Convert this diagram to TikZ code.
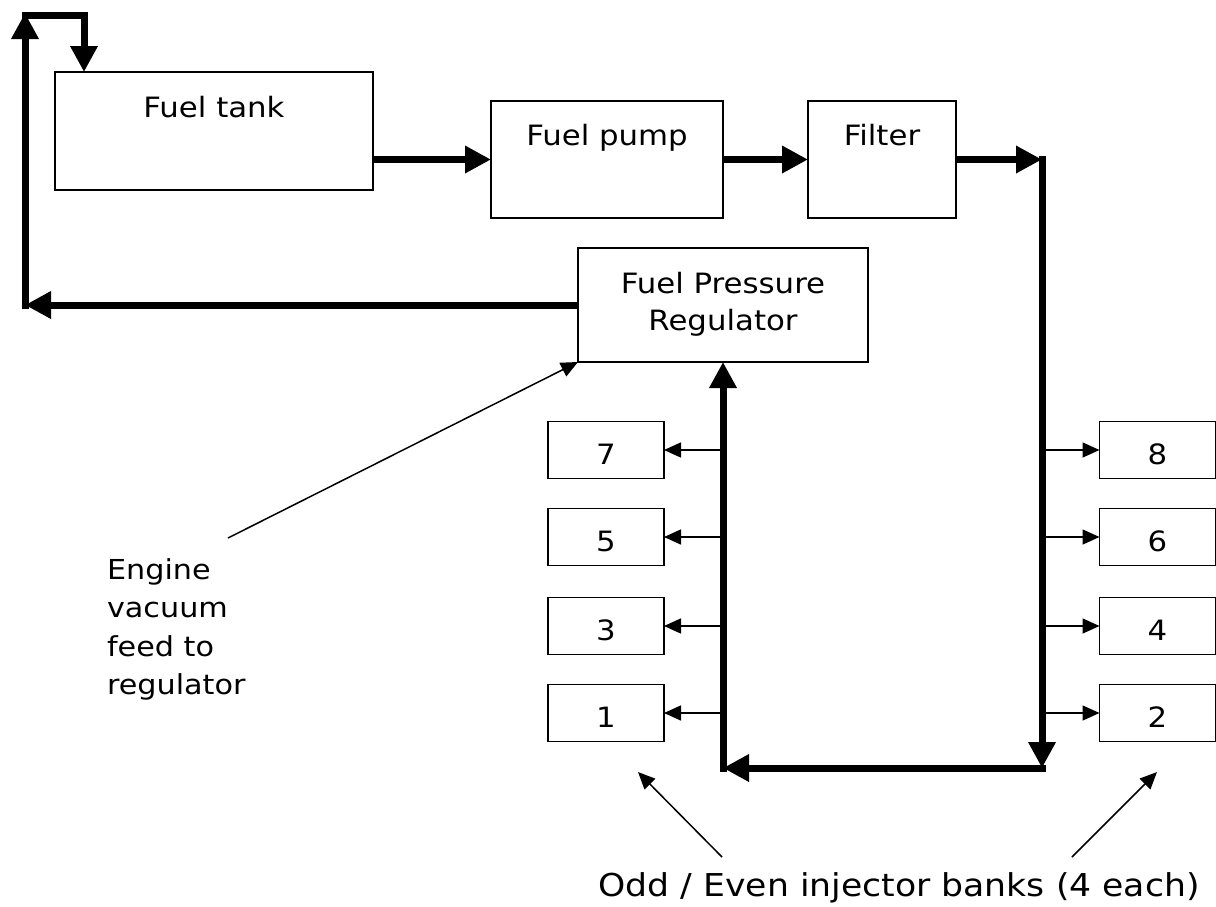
\documentclass[tikz,border=0pt]{standalone}
\usepackage{fontspec}
\setmainfont{DejaVu Sans}[FakeStretch=1.1]
\usetikzlibrary{arrows.meta}
\begin{document}
\begin{tikzpicture}[x=1pt,y=-1pt,
  blk/.style={draw=black, line width=1.6pt, inner sep=0pt, outer sep=0pt,
    font=\fontsize{28}{37}\selectfont},
  inj/.style={blk, minimum width=116pt, minimum height=57pt, text height=43pt, text depth=14pt},
  flow/.style={line width=7pt, -{Triangle[length=26pt,width=26pt]}},
  thinarrow/.style={line width=1.5pt, -{Triangle[length=17pt,width=15pt]}},
  lbl/.style={inner sep=0pt, outer sep=0pt}
]
\fill[white] (0,0) rectangle (1216,906);
\useasboundingbox (0,0) rectangle (1216,906);

% main boxes
\node[blk, minimum width=318pt, minimum height=118pt, text height=45pt, text depth=73pt] (tank) at (214,131) {Fuel tank};
\node[blk, minimum width=232pt, minimum height=117pt, text height=44pt, text depth=73pt] (pump) at (607,159.5) {Fuel pump};
\node[blk, minimum width=148pt, minimum height=117pt, text height=44pt, text depth=73pt] (filter) at (882,159.5) {Filter};
\node[blk, minimum width=290pt, minimum height=114pt, text height=45pt, text depth=69pt] (reg) at (723,305)
  {\begin{tabular}[t]{@{}c@{}}Fuel Pressure\\Regulator\end{tabular}};

% injectors
\node[inj] (i7) at (606,450) {7};
\node[inj] (i5) at (606,537) {5};
\node[inj] (i3) at (606,626) {3};
\node[inj] (i1) at (606,713) {1};
\node[inj] (i8) at (1157.5,450) {8};
\node[inj] (i6) at (1157.5,537) {6};
\node[inj] (i4) at (1157.5,626) {4};
\node[inj] (i2) at (1157.5,713) {2};

% labels
\node[lbl, anchor=base west, font=\fontsize{27.5}{38.5}\selectfont] (vactext) at (107,579)
  {\begin{tabular}[t]{@{}l@{}}Engine\\vacuum\\feed to\\regulator\end{tabular}};
\node[lbl, anchor=base, font=\fontsize{31.5}{38}\selectfont] (banks) at (899,896)
  {Odd / Even injector banks (4 each)};

% routing points
\coordinate (c1) at (1042,159.5);
\coordinate (c2) at (1042,768);
\coordinate (c3) at (723,768);
\coordinate (c4) at (25,305);
\coordinate (c5) at (25,13);
\coordinate (c6) at (84,15);
\coordinate (c7) at (21.5,15);
\coordinate (vac) at (228,538);
\coordinate (oddtail) at (722,857);
\coordinate (oddtip) at (638,772);
\coordinate (eventail) at (1072,857);
\coordinate (eventip) at (1157,772);

% main flow
\draw[flow] (tank.east |- pump.west) -- (pump.west);
\draw[flow] (pump.east) -- (filter.west);
\draw[flow] (filter.east) -- (c1);
\draw[flow] ([yshift=3.5pt]c1) -- (c2);
\draw[flow] ([xshift=3.5pt]c2) -- (c3);
\draw[flow] ([yshift=-3.5pt]c3) -- (reg.south);
\draw[flow] (reg.west) -- (c4);
\draw[flow] ([yshift=-3.5pt]c4) -- (c5);
\draw[flow, line join=miter] (c7) -- (c6) -- (tank.north west -| c6);

% injector feeds
\foreach \n in {7,5,3,1} {\draw[thinarrow] (reg.south |- i\n.east) -- (i\n.east);}
\foreach \n in {8,6,4,2} {\draw[thinarrow] (c1 |- i\n.west) -- (i\n.west);}

% pointers
\draw[thinarrow] (vac) -- (reg.south west);
\draw[thinarrow] (oddtail) -- (oddtip);
\draw[thinarrow] (eventail) -- (eventip);
\end{tikzpicture}
\end{document}
